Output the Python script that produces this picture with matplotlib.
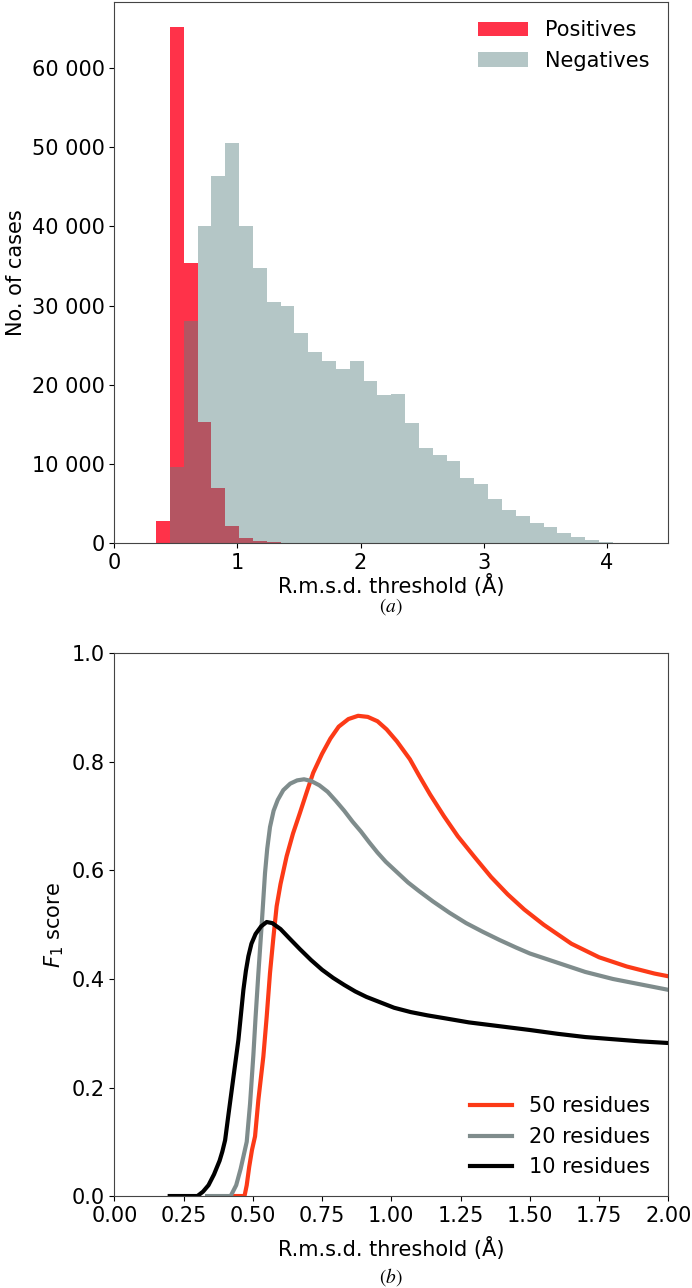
import numpy as np
import matplotlib
matplotlib.use('Agg')
import matplotlib.pyplot as plt
from matplotlib.ticker import FuncFormatter

# histogram (counts per bin)
bin_edges = np.linspace(0.339, 0.339 + 0.1124 * 34, 35)
positives = [2790, 65090, 35400, 15300, 6970, 2200, 630, 300, 100, 30,
             0, 0, 0, 0, 0, 0, 0, 0, 0, 0, 0, 0, 0, 0, 0, 0, 0, 0, 0, 0, 0, 0, 0, 0]
negatives = [0, 9630, 28000, 40100, 46300, 50470, 40040, 34730, 30450, 29910,
             26500, 24110, 23030, 22040, 23030, 20470, 18710, 18800, 15200, 11970,
             11160, 10440, 8190, 7420, 5580, 4140, 3460, 2560, 2110, 1350,
             760, 400, 150, 50]

# F1 curves
x50 = [0.43, 0.47, 0.478, 0.487, 0.497, 0.508, 0.52, 0.538, 0.55, 0.562, 0.574, 0.586, 0.60,
       0.622, 0.645, 0.67, 0.695, 0.718, 0.75, 0.78, 0.81, 0.845, 0.88, 0.915, 0.95, 0.983,
       1.02, 1.067, 1.10, 1.14, 1.19, 1.24, 1.30, 1.36, 1.42, 1.48, 1.55, 1.65, 1.75, 1.85,
       1.95, 2.00]
f50 = [0.0, 0.0, 0.02, 0.054, 0.085, 0.11, 0.177, 0.257, 0.33, 0.411, 0.475, 0.534, 0.575,
       0.626, 0.668, 0.706, 0.745, 0.78, 0.815, 0.843, 0.865, 0.879, 0.885, 0.883, 0.875, 0.86,
       0.838, 0.805, 0.775, 0.74, 0.70, 0.663, 0.625, 0.588, 0.556, 0.528, 0.50, 0.465, 0.44, 0.423,
       0.41, 0.405]

x20 = [0.335, 0.42, 0.44, 0.456, 0.478, 0.49, 0.502, 0.51, 0.52, 0.532, 0.544, 0.552, 0.562,
       0.575, 0.59, 0.61, 0.635, 0.66, 0.685, 0.71, 0.74, 0.77, 0.80, 0.83, 0.86, 0.89, 0.92,
       0.95, 0.98, 1.02, 1.06, 1.10, 1.15, 1.21, 1.27, 1.33, 1.39, 1.45, 1.50, 1.60, 1.70,
       1.80, 1.90, 2.00]
f20 = [0.0, 0.0, 0.02, 0.05, 0.10, 0.17, 0.26, 0.33, 0.41, 0.50, 0.595, 0.64, 0.68,
       0.71, 0.73, 0.748, 0.76, 0.766, 0.768, 0.765, 0.757, 0.745, 0.728, 0.71, 0.69, 0.672, 0.652,
       0.633, 0.616, 0.597, 0.578, 0.562, 0.543, 0.522, 0.503, 0.487, 0.472, 0.458, 0.447, 0.43,
       0.413, 0.40, 0.39, 0.38]

x10 = [0.20, 0.30, 0.32, 0.34, 0.36, 0.38, 0.39, 0.40, 0.412, 0.424, 0.436, 0.448, 0.457,
       0.466, 0.475, 0.484, 0.495, 0.51, 0.53, 0.55, 0.57, 0.60, 0.63, 0.67, 0.71, 0.75, 0.79,
       0.83, 0.87, 0.91, 0.96, 1.01, 1.07, 1.13, 1.20, 1.28, 1.39, 1.50, 1.60, 1.70, 1.80,
       1.90, 2.00]
f10 = [0.0, 0.0, 0.008, 0.02, 0.04, 0.065, 0.082, 0.103, 0.15, 0.196, 0.242, 0.288, 0.334,
       0.38, 0.415, 0.442, 0.465, 0.483, 0.497, 0.505, 0.503, 0.492, 0.476, 0.455, 0.435, 0.417,
       0.402, 0.389, 0.377, 0.367, 0.357, 0.347, 0.339, 0.333, 0.327, 0.32, 0.313, 0.306, 0.299,
       0.293, 0.289, 0.285, 0.282]

plt.rcParams['font.size'] = 15
plt.rcParams['axes.edgecolor'] = '#444444'

fig = plt.figure(figsize=(6.92, 12.88), dpi=100)

# (a) histogram
ax1 = fig.add_axes([0.1652, 0.5782, 0.8006, 0.4205])
ax1.hist(bin_edges[:-1], bins=bin_edges, weights=positives, color='#ff3249', label='Positives')
ax1.hist(bin_edges[:-1], bins=bin_edges, weights=negatives, color='#598181', alpha=0.45,
         label='Negatives')
ax1.set_xlim(0, 4.5)
ax1.set_xticks([0, 1, 2, 3, 4])
ax1.yaxis.set_major_formatter(FuncFormatter(lambda v, p: '{:,}'.format(int(v)).replace(',', ' ')))
ax1.set_xlabel('R.m.s.d. threshold (Å)', labelpad=0.5)
ax1.set_ylabel('No. of cases')
ax1.legend(loc='upper right', frameon=False, handlelength=2.4)

# (b) F1 score
ax2 = fig.add_axes([0.1652, 0.0714, 0.8006, 0.4213])
ax2.plot(x50, f50, color='#fc3a17', lw=3, label='50 residues')
ax2.plot(x20, f20, color='#7f8c8c', lw=3, label='20 residues')
ax2.plot(x10, f10, color='black', lw=3, label='10 residues')
ax2.set_xlim(0, 2.0)
ax2.set_ylim(0, 1.0)
ax2.set_xticks(np.arange(0, 2.01, 0.25))
ax2.xaxis.set_major_formatter(FuncFormatter(lambda v, p: '%.2f' % v))
ax2.yaxis.set_major_formatter(FuncFormatter(lambda v, p: '%.1f' % v))
ax2.set_xlabel('R.m.s.d. threshold (Å)', labelpad=8)
ax2.set_ylabel('$F_1$ score')
ax2.legend(loc='lower right', frameon=False)

# panel captions
fig.text(0.565, 1 - 607 / 1288, r'$(\mathit{a})$', ha='center', va='center',
         math_fontfamily='stix', fontsize=14)
fig.text(0.565, 1 - 1277 / 1288, r'$(\mathit{b})$', ha='center', va='center',
         math_fontfamily='stix', fontsize=14)

fig.savefig('out.png', dpi=100)
